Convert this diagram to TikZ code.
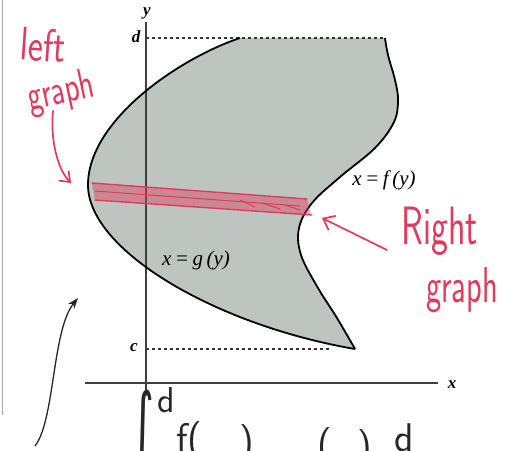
\documentclass[tikz,border=0pt]{standalone}
\usepackage{fontspec}
\setmainfont{Liberation Serif}
\newfontfamily\symfont{DejaVu Sans}
\usetikzlibrary{arrows.meta}
\definecolor{regfill}{RGB}{190,197,192}
\definecolor{pen}{RGB}{222,60,92}
\begin{document}
\begin{tikzpicture}[x=1pt,y=-1pt,
  axis/.style={line width=1.3pt, draw=black!75},
  curve/.style={line width=1.8pt, draw=black},
  dashline/.style={line width=1.7pt, dash pattern=on 3pt off 3pt, draw=black!80},
  redpen/.style={draw=pen, line width=1.7pt, line cap=round, line join=round},
  redtxt/.style={text=pen, font=\sffamily\fontsize{36}{36}\selectfont, inner sep=0},
  hand/.style={text=black!85, font=\sffamily\fontsize{40}{40}\selectfont, inner sep=0},
  lbl/.style={font=\itshape\fontsize{21}{21}\selectfont, inner sep=0},
  axl/.style={font=\itshape\bfseries\fontsize{17}{17}\selectfont, inner sep=0}]
\useasboundingbox (0,0) rectangle (522,450);
\clip (0,0) rectangle (522,450);
% page edge line
\draw[black!35, line width=1pt] (2,0) -- (2,415);
% region
\fill[regfill] (240,38) .. controls (180,58) and (88,120) .. (88,185)
  .. controls (88,250) and (215,325) .. (355,349)
  -- plot[smooth, tension=0.6] coordinates {(355,349) (337,318) (318,288) (301,255) (299,228) (312,203) (340,177) (375,148) (394,122) (398,100) (395,80) (388,55) (385,38)} -- cycle;
% axes
\draw[axis] (146,22) -- (146,392);
\draw[axis] (85,383) -- (438,383);
\node[axl] (ylab) at (147,13) {y};
\node[axl] (xlab) at (452,385) {x};
\node[axl] (dlab) at (136,37) {d};
\node[axl] (clab) at (134,348) {c};
% dashed lines
\draw[dashline] (146,38) -- (385,38);
\draw[dashline] (146,349) -- (330,349);
% curves
\draw[curve] (240,38) .. controls (180,58) and (88,120) .. (88,185)
  .. controls (88,250) and (215,325) .. (355,349);
\draw[curve] plot[smooth, tension=0.6] coordinates {(385,38) (388,55) (395,80) (398,100) (394,122) (375,148) (340,177) (312,203) (299,228) (301,255) (318,288) (337,318) (355,349)};
\node[lbl] (flab) at (384,180) {x\,=\,f\,(y)};
\node[lbl] (glab) at (196,260) {x\,=\,g\,(y)};
% red strip
\fill[pen, opacity=0.45] (92,183) -- (307,199) -- (311,215) -- (95,200) -- cycle;
\draw[redpen, line width=1.4pt] (92,183) -- (307,199);
\draw[redpen, line width=1.4pt] (95,200) -- (312,215);
\draw[redpen, line width=1pt] (95,191) -- (300,206);
\draw[redpen, line width=1pt] (240,200) -- (255,207) (262,203) -- (280,209) (285,205) -- (300,210);
% red annotations
\node[redtxt, rotate=-4] (left) at (43,45) {\scalebox{1}[1.3]{left}};
\node[redtxt, rotate=12] (lgraph) at (61,93) {\scalebox{0.85}[1.2]{graph}};
\coordinate (lhead) at (71,183);
\draw[redpen, -{Straight Barb[length=9pt,width=14pt]}] (53,111) .. controls (50,140) and (58,170) .. (lhead);
\node[redtxt] (right) at (440,231) {\scalebox{1}[1.5]{Right}};
\node[redtxt] (rgraph) at (462,290) {\scalebox{0.9}[1.4]{graph}};
\coordinate (rhead) at (322,218);
\draw[redpen, -{Straight Barb[length=10pt,width=16pt]}] (387,250) -- (rhead);
% black hand arrow
\coordinate (bhead) at (78,298);
\draw[black!85, line width=1.3pt, -{Stealth[length=11pt,width=8pt]}] (35,446) .. controls (55,420) and (52,330) .. (bhead);
% bottom handwritten integral (cut off)
\node[hand, anchor=north, font=\symfont\fontsize{80}{80}\selectfont] (int) at (143,390) {\scalebox{0.55}[1]{∫}};
\node[hand, anchor=north west, font=\sffamily\fontsize{36}{36}\selectfont] (ds) at (157,387) {d};
\node[hand, anchor=north west] (fo) at (176,421) {f(};
\node[hand, anchor=north west] (fc) at (239,424) {)};
\node[hand, anchor=north west] (go) at (317,427) {(};
\node[hand, anchor=north west] (gc) at (357,429) {)};
\node[hand, anchor=north west] (dy) at (394,424) {d};
\end{tikzpicture}
\end{document}
